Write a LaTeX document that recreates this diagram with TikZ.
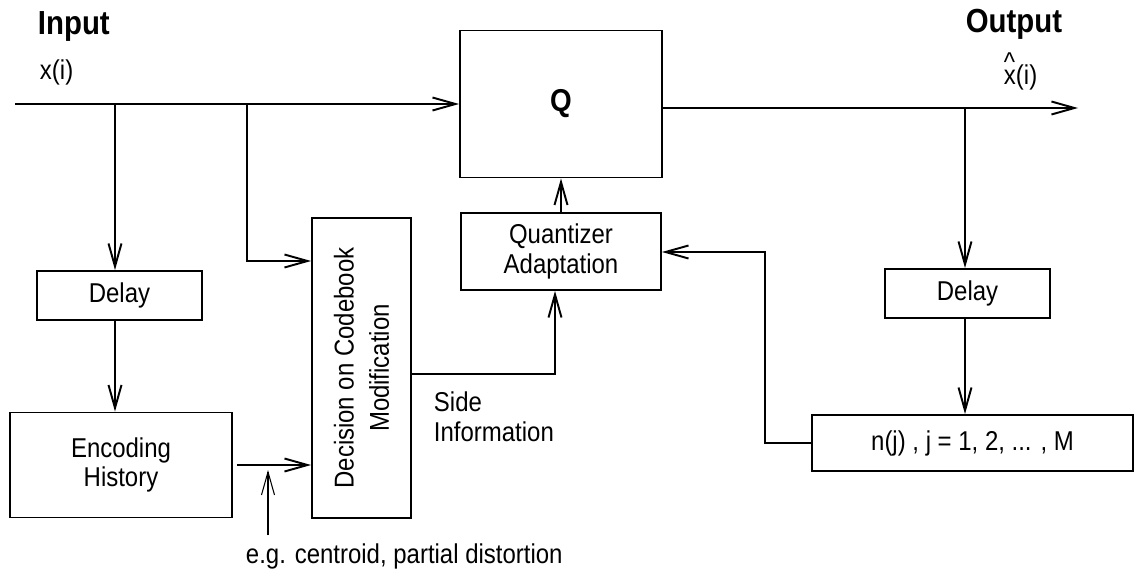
\documentclass[tikz,border=0pt]{standalone}
\usepackage{fontspec}
\setmainfont{Liberation Sans}[FakeStretch=0.88]
\usetikzlibrary{arrows.meta}

\tikzset{
  blk/.style={draw, inner sep=0pt, align=center, font=\fontsize{15.5}{17}\selectfont},
  lbl/.style={inner sep=0pt, font=\fontsize{15.5}{17}\selectfont},
  hdr/.style={inner sep=0pt, font=\fontsize{19}{22}\selectfont\bfseries},
  >={Straight Barb[length=4.6mm,width=2.6mm]},
}

\begin{document}
\begin{tikzpicture}[x=0.02cm, y=-0.02cm, line width=1.1pt]
  \useasboundingbox (0,0) rectangle (1135,571);

  % Blocks
  \node[blk, minimum width=4.04cm, minimum height=2.94cm] (q) at (561,104) {\fontsize{18}{20}\selectfont\bfseries Q};
  \node[blk, minimum width=4.0cm, minimum height=1.54cm] (qa) at (561,251.5) {Quantizer\\Adaptation};
  % rotated: north is the left side, south the right side
  \node[blk, rotate=90, minimum width=6.0cm, minimum height=1.98cm] (dec) at (361.5,368) {Decision on Codebook\\[3pt]Modification};
  \node[blk, minimum width=3.3cm, minimum height=0.98cm] (dl1) at (119.5,295.5) {Delay};
  \node[blk, minimum width=4.44cm, minimum height=2.1cm] (enc) at (121,465) {Encoding\\History};
  \node[blk, minimum width=3.3cm, minimum height=0.98cm] (dl2) at (967.5,293.5) {Delay};
  \node[blk, minimum width=6.42cm, minimum height=1.12cm] (cnt) at (972.5,443) {n(j) , j = 1, 2, ... , M};

  % Labels
  \node[hdr, anchor=base west] (inlbl) at (37,35) {Input};
  \node[lbl, anchor=base west] (xin) at (39,80) {x(i)};
  \node[hdr, anchor=base east] (outlbl) at (1063,33) {Output};
  \node[lbl, anchor=base west] (xout) at (1003,85) {\rlap{\raisebox{0.5em}{\^{}}}x(i)};
  \node[lbl, anchor=north west, align=left] (sideinfo) at (433,391) {Side\\Information};
  \node[lbl, anchor=base west] (note) at (245,563) {e.g. centroid, partial distortion};

  \coordinate (in0) at (15,104);
  \coordinate (br1) at (115,104);
  \coordinate (br2) at (247,104);
  \coordinate (c2) at (247,261);
  \coordinate (side) at (555,374);
  \coordinate (out1) at (1078,108);
  \coordinate (br3) at (965,108);
  \coordinate (fb) at (765,252);
  \coordinate (hint) at (268,470);

  % Input side
  \draw[->] (in0) -- (in0 -| q.west);
  \draw[->] (br1) -- (br1 |- dl1.north);
  \draw[->] (br1 |- dl1.south) -- (br1 |- enc.north);
  \draw[->] (br2) -- (c2) -- (c2 -| dec.north);
  \draw[->, shorten <=0.08cm] (enc.east) -- (enc.east -| dec.north);
  \draw[->, line width=0.6pt, shorten <=1.4mm] (note.north -| hint) -- (hint);

  % Adaptation
  \draw[->] (side -| dec.south) -- (side) -- (side |- qa.south);
  \draw[->] (qa.north) -- (q.south);

  % Output side
  \draw[->] (q.east |- out1) -- (out1);
  \draw[->] (br3) -- (br3 |- dl2.north);
  \draw[->] (br3 |- dl2.south) -- (br3 |- cnt.north);
  \draw[->] (cnt.west) -| (fb) -- (fb -| qa.east);
\end{tikzpicture}
\end{document}
